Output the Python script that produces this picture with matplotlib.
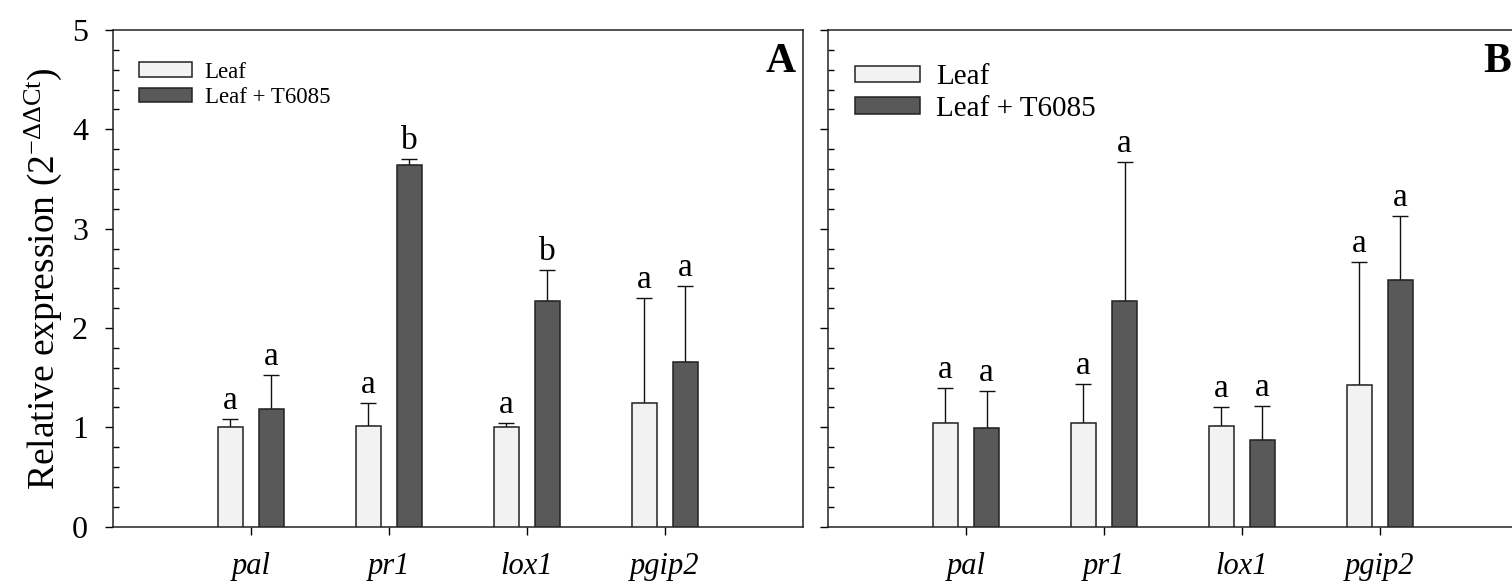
import matplotlib
matplotlib.use('Agg')
import matplotlib.pyplot as plt
import numpy as np

# data
genes = ['pal', 'pr1', 'lox1', 'pgip2']
series = ['Leaf', 'Leaf + T6085']

a_leaf = [1.00, 1.015, 1.00, 1.245]
a_leaf_err = [0.085, 0.235, 0.045, 1.055]
a_trt = [1.18, 3.64, 2.27, 1.66]
a_trt_err = [0.345, 0.06, 0.31, 0.76]
a_leaf_let = ['a', 'a', 'a', 'a']
a_trt_let = ['a', 'b', 'b', 'a']

b_leaf = [1.045, 1.047, 1.017, 1.427]
b_leaf_err = [0.35, 0.39, 0.185, 1.24]
b_trt = [0.99, 2.273, 0.873, 2.487]
b_trt_err = [0.38, 1.397, 0.342, 0.639]
b_leaf_let = ['a', 'a', 'a', 'a']
b_trt_let = ['a', 'a', 'a', 'a']

plt.rcParams['font.family'] = ['Liberation Serif', 'DejaVu Serif']
plt.rcParams['mathtext.fontset'] = 'custom'
plt.rcParams['mathtext.rm'] = 'Liberation Serif'
plt.rcParams['mathtext.it'] = 'Liberation Serif:italic'

light = '#f2f2f2'
dark = '#595959'
edge = '#222222'


def draw_panel(ax, leaf, leaf_err, trt, trt_err, leaf_let, trt_let, tag,
               leg_size, leg_x, leg_len, leg_h, leg_spacing):
    ind = np.arange(len(genes))
    width = 0.18
    off = 0.149
    r1 = ax.bar(ind - off, leaf, width, color=light, edgecolor=edge,
                linewidth=1.1, zorder=3)
    r2 = ax.bar(ind + off, trt, width, color=dark, edgecolor=edge,
                linewidth=1.1, zorder=3)
    ax.errorbar(ind - off, leaf, yerr=[np.zeros(len(leaf)), leaf_err],
                fmt='none', ecolor='#111111', elinewidth=1.0, capsize=5.5,
                capthick=1.0, zorder=2)
    ax.errorbar(ind + off, trt, yerr=[np.zeros(len(trt)), trt_err],
                fmt='none', ecolor='#111111', elinewidth=1.0, capsize=5.5,
                capthick=1.0, zorder=2)
    for i in range(len(genes)):
        ax.text(i - off, leaf[i] + leaf_err[i] + 0.1, leaf_let[i],
                ha='center', va='baseline', fontsize=24)
        ax.text(i + off, trt[i] + trt_err[i] + 0.1, trt_let[i],
                ha='center', va='baseline', fontsize=24)

    ax.set_xlim(-1, 4)
    ax.set_ylim(0, 5)
    ax.set_xticks(ind)
    ax.set_xticklabels(genes, style='italic', fontsize=22)
    ax.set_yticks(np.arange(0, 6, 1))
    ax.set_yticks(np.arange(0, 5.01, 0.2), minor=True)
    ax.tick_params(axis='x', direction='out', length=6, width=1.0, pad=12)
    ax.tick_params(axis='y', which='major', direction='out', length=6,
                   width=1.0, labelsize=23, pad=12)
    ax.tick_params(axis='y', which='minor', direction='in', length=4.5,
                   width=1.0)
    for s in ax.spines.values():
        s.set_linewidth(1.1)
        s.set_color('#222222')

    ax.legend((r1, r2), series, loc='upper left', bbox_to_anchor=(leg_x, 0.955),
              frameon=False, fontsize=leg_size, handlelength=leg_len,
              handleheight=leg_h, handletextpad=0.55, labelspacing=leg_spacing,
              borderaxespad=0)
    ax.text(0.99, 0.935, tag, transform=ax.transAxes, ha='right', va='center',
            fontsize=30, fontweight='bold')


fig = plt.figure(figsize=(15.12, 5.85), dpi=100)
axA = fig.add_axes([0.0747, 0.0997, 0.4563, 0.8490])
axB = fig.add_axes([0.5476, 0.0997, 0.4563, 0.8490])

draw_panel(axA, a_leaf, a_leaf_err, a_trt, a_trt_err, a_leaf_let, a_trt_let,
           'A', 16.5, 0.025, 2.3, 0.6, 0.2)
draw_panel(axB, b_leaf, b_leaf_err, b_trt, b_trt_err, b_leaf_let, b_trt_let,
           'B', 21, 0.022, 2.25, 0.48, 0.2)
axB.set_yticklabels([])
axA.set_ylabel(r'Relative expression (2$^{\mathregular{-\Delta\Delta Ct}}$)',
               fontsize=27, labelpad=6)

fig.savefig('out.png', dpi=100)
